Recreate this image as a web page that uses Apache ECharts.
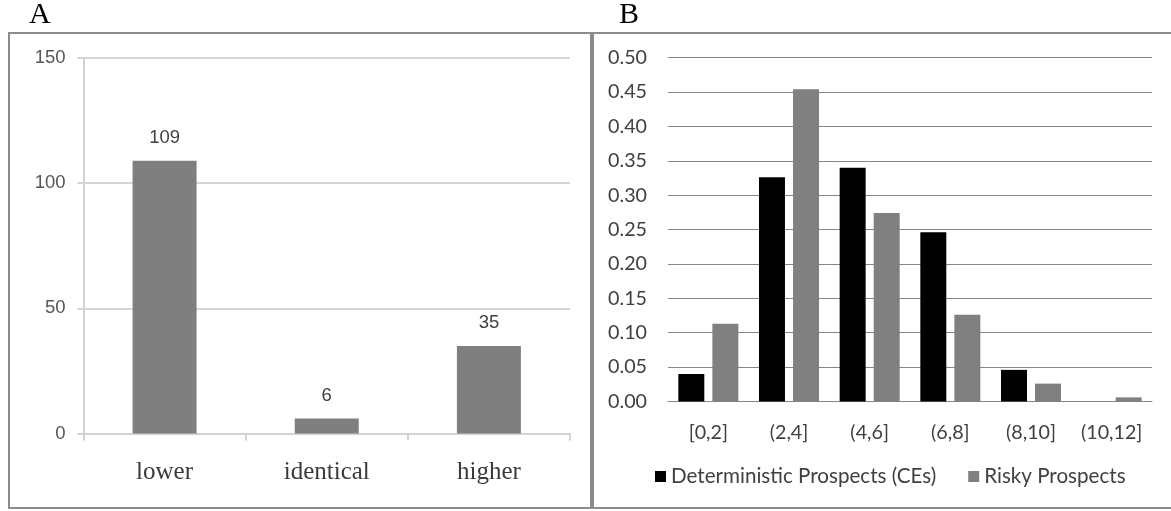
<!DOCTYPE html>
<html>
<head>
<meta charset="utf-8">
<script src="https://cdn.jsdelivr.net/npm/echarts@6/dist/echarts.min.js"></script>
<style>
html,body{margin:0;padding:0;background:#fff;}
#c{width:1171px;height:511px;}
</style>
</head>
<body>
<div id="c"></div>
<script>
// Panel A data
const categoriesA = ['lower', 'identical', 'higher'];
const valuesA = [109, 6, 35];
const yTicksA = [0, 50, 100, 150];

// Panel B data
const categoriesB = ['[0,2]', '(2,4]', '(4,6]', '(6,8]', '(8,10]', '(10,12]'];
const deterministicB = [0.040, 0.326, 0.340, 0.246, 0.046, 0];
const riskyB = [0.113, 0.454, 0.274, 0.126, 0.026, 0.006];
const seriesNamesB = ['Deterministic Prospects (CEs)', 'Risky Prospects'];

const chart = echarts.init(document.getElementById('c'), null, {renderer: 'canvas'});

const sansB = 'Lato';
const option = {
  animation: false,
  backgroundColor: '#ffffff',
  graphic: [
    {type: 'rect', shape: {x: 9, y: 33, width: 582, height: 475}, style: {fill: 'none', stroke: '#8c8c8c', lineWidth: 2}, z: 0},
    {type: 'rect', shape: {x: 593, y: 33, width: 590, height: 475}, style: {fill: 'none', stroke: '#8c8c8c', lineWidth: 2}, z: 0},
    {type: 'text', x: 29, y: 15, style: {text: 'A', font: '30px "Liberation Serif"', fill: '#000', verticalAlign: 'middle', align: 'left'}},
    {type: 'text', x: 619, y: 15, style: {text: 'B', font: '30px "Liberation Serif"', fill: '#000', verticalAlign: 'middle', align: 'left'}}
  ],
  grid: [
    {left: 83.5, top: 58, width: 486.5, height: 375.5, containLabel: false},
    {left: 668, top: 57.7, width: 484, height: 343.8, containLabel: false}
  ],
  legend: {
    gridIndex: 1,
    data: seriesNamesB,
    left: 655,
    top: 466,
    itemWidth: 11,
    itemHeight: 11,
    itemGap: 32,
    icon: 'rect',
    textStyle: {fontFamily: sansB, fontSize: 20.6, color: '#404040'},
    padding: 0
  },
  xAxis: [
    {
      gridIndex: 0, type: 'category', data: categoriesA,
      axisLine: {lineStyle: {color: '#d3d3d3', width: 2}},
      axisTick: {show: true, length: 7, lineStyle: {color: '#d3d3d3', width: 2}},
      axisLabel: {fontFamily: '"Liberation Serif"', fontSize: 25, color: '#3a3a3a', margin: 26}
    },
    {
      gridIndex: 1, type: 'category', data: categoriesB,
      axisLine: {lineStyle: {color: '#868686', width: 1}},
      axisTick: {show: false},
      axisLabel: {fontFamily: sansB, fontSize: 19.7, color: '#404040', margin: 21}
    }
  ],
  yAxis: [
    {
      gridIndex: 0, type: 'value', min: 0, max: 150, interval: 50,
      axisLine: {show: true, lineStyle: {color: '#d3d3d3', width: 2}},
      axisTick: {show: true, length: 6, lineStyle: {color: '#d3d3d3', width: 2}},
      splitLine: {show: true, lineStyle: {color: '#d6d6d6', width: 2}},
      axisLabel: {fontFamily: '"Liberation Sans"', fontSize: 18.5, color: '#555555', margin: 18,
        formatter: v => yTicksA.includes(v) ? String(v) : ''}
    },
    {
      gridIndex: 1, type: 'value', min: 0, max: 0.5, interval: 0.05,
      axisLine: {show: false},
      axisTick: {show: false},
      splitLine: {show: true, lineStyle: {color: '#868686', width: 1}},
      axisLabel: {fontFamily: sansB, fontSize: 19.7, color: '#404040', margin: 21,
        formatter: v => v.toFixed(2)}
    }
  ],
  series: [
    {
      type: 'bar', xAxisIndex: 0, yAxisIndex: 0, data: valuesA, barWidth: 64,
      itemStyle: {color: '#7f7f7f'},
      label: {show: true, position: 'top', distance: 13, fontFamily: '"Liberation Sans"', fontSize: 18.5, color: '#404040'}
    },
    {
      name: seriesNamesB[0], type: 'bar', xAxisIndex: 1, yAxisIndex: 1, data: deterministicB,
      barGap: '31%', barCategoryGap: '25.6%',
      itemStyle: {color: '#000000'}
    },
    {
      name: seriesNamesB[1], type: 'bar', xAxisIndex: 1, yAxisIndex: 1, data: riskyB,
      barGap: '31%', barCategoryGap: '25.6%',
      itemStyle: {color: '#808080'}
    }
  ]
};
chart.setOption(option);
</script>
</body>
</html>
